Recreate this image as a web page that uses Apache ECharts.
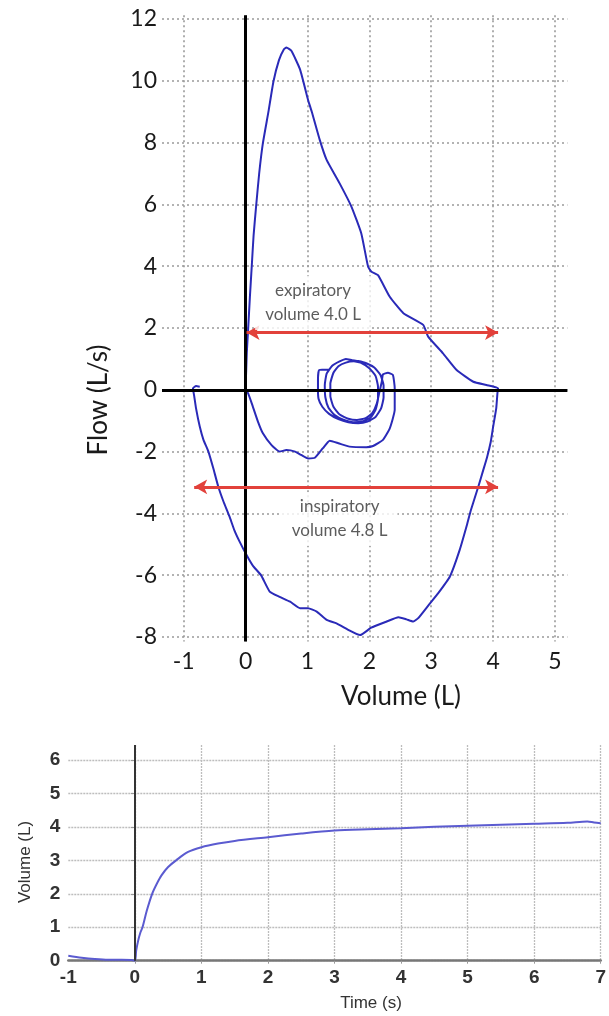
<!DOCTYPE html>
<html><head><meta charset="utf-8">
<script src="https://cdn.jsdelivr.net/npm/echarts@6/dist/echarts.min.js"></script>
<style>html,body{margin:0;padding:0;background:#fff}#c{width:609px;height:1016px}</style>
</head><body><div id="c"></div>
<script>
// ---- Top chart: flow-volume loop ----
const flowTicks = [-8, -6, -4, -2, 0, 2, 4, 6, 8, 10, 12];
const volumeTicks = [-1, 0, 1, 2, 3, 4, 5];

// [volume (L), flow (L/s)]
const tidalLoops = [
  [1.36,0.66],[1.19,0.64],[1.17,0.35],[1.17,0.0],[1.18,-0.3],[1.24,-0.55],[1.35,-0.78],[1.5,-0.95],
  [1.66,-1.05],[1.82,-1.08],[1.97,-1.03],[2.1,-0.88],[2.19,-0.6],[2.23,-0.25],[2.23,0.15],[2.18,0.48],
  [2.08,0.72],[1.95,0.86],[1.82,0.93],[1.72,0.96],[1.62,1.0],[1.52,0.92],[1.4,0.78],[1.31,0.52],
  [1.28,0.15],[1.29,-0.25],[1.34,-0.58],[1.44,-0.82],[1.58,-0.97],[1.74,-1.05],[1.9,-1.02],[2.02,-0.9],
  [2.1,-0.65],[2.14,-0.3],[2.14,0.1],[2.1,0.45],[2.0,0.7],[1.88,0.86],[1.75,0.92],[1.62,0.88],
  [1.5,0.76],[1.42,0.55],[1.37,0.2],[1.37,-0.2],[1.42,-0.55],[1.52,-0.8],[1.66,-0.94],[1.8,-0.98],
  [1.94,-0.92],[2.05,-0.75],[2.12,-0.45],[2.16,-0.1],[2.2,0.25],[2.22,0.5]
];
const tidalExit = [
  [2.3,0.55],[2.38,0.48],[2.41,0.05],[2.41,-0.65],[2.33,-1.25],[2.22,-1.62],[2.06,-1.82],[1.95,-1.86],
  [1.68,-1.84],[1.5,-1.73],[1.36,-1.65],[1.25,-1.89],[1.12,-2.2],[1.01,-2.22],[0.9,-2.11],[0.8,-2.0],
  [0.66,-1.95],[0.55,-2.0],[0.42,-1.79],[0.28,-1.41],[0.2,-1.03],[0.1,-0.44],[0.04,-0.11],[0.0,0.0]
];
const expiratory = [
  [0.01,0.6],[0.02,1.2],[0.04,1.9],[0.07,3.0],[0.1,4.0],[0.13,5.0],[0.17,5.93],[0.22,7.0],
  [0.28,7.98],[0.37,9.0],[0.45,9.97],[0.54,10.67],[0.62,11.02],[0.66,11.08],[0.74,10.97],[0.88,10.37],
  [1.01,9.38],[1.07,9.0],[1.2,8.08],[1.31,7.44],[1.52,6.68],[1.71,5.93],[1.87,5.06],[1.98,3.98],
  [2.035,3.82],[2.14,3.71],[2.33,3.01],[2.55,2.48],[2.87,2.10],[2.95,1.72],[3.19,1.18],[3.41,0.64],
  [3.68,0.26],[3.89,0.155],[4.08,0.05]
];
const inspiratory = [
  [4.07,-0.1],[4.05,-0.6],[4.0,-1.2],[3.96,-1.7],[3.9,-2.2],[3.84,-2.6],[3.76,-3.14],[3.64,-3.9],
  [3.58,-4.35],[3.46,-5.18],[3.30,-6.05],[3.11,-6.59],[2.98,-6.91],[2.79,-7.39],[2.71,-7.50],[2.60,-7.43],
  [2.47,-7.36],[2.28,-7.50],[2.03,-7.70],[1.85,-7.94],[1.66,-7.77],[1.47,-7.56],[1.31,-7.45],[1.15,-7.18],
  [1.01,-7.07],[0.88,-7.07],[0.72,-6.86],[0.55,-6.70],[0.39,-6.53],[0.25,-6.0],[0.12,-5.7],[0.016,-5.35],
  [-0.1,-4.9],[-0.18,-4.55],[-0.26,-4.1],[-0.36,-3.6],[-0.44,-3.14],[-0.52,-2.55],[-0.6,-2.0],[-0.68,-1.62],
  [-0.74,-1.19],[-0.8,-0.6],[-0.83,-0.2],[-0.85,0.05],[-0.8,0.12],[-0.74,0.1]
];
const expArrow = [[0.016, 1.85], [4.08, 1.85]];
const inspArrow = [[-0.83, -3.14], [4.08, -3.14]];
const annotationTexts = ['expiratory\nvolume 4.0 L', 'inspiratory\nvolume 4.8 L'];
const annotationPos = [[1.09, 2.81], [1.52, -4.18]];

// ---- Bottom chart: volume-time ----
const timeTicks = [-1, 0, 1, 2, 3, 4, 5, 6, 7];
const volTicks = [0, 1, 2, 3, 4, 5, 6];
const timeS = [-1,-0.8,-0.6,-0.4,-0.2,-0.05,0,0.02,0.05,0.08,0.115,0.18,0.26,0.33,0.4,0.5,0.62,0.8,1,1.25,1.5,2,2.5,3,3.5,4,4.5,5,5.5,6,6.5,6.8,6.9,7];
const volumeL = [0.15,0.09,0.05,0.03,0.03,0.02,0.0,0.3,0.6,0.82,1.0,1.5,2.0,2.3,2.55,2.8,3.0,3.25,3.39,3.5,3.58,3.69,3.8,3.89,3.93,3.96,4.0,4.03,4.06,4.09,4.12,4.16,4.13,4.11];

const loopData = tidalLoops.concat(tidalExit, expiratory, inspiratory);
const volTimeData = timeS.map((t, i) => [t, volumeL[i]]);

const chart = echarts.init(document.getElementById('c'), null, {renderer: 'canvas'});
const topFont = 'Lato';
const botFont = 'Liberation Sans';
const dottedTop = {color: '#9a9a9a', width: 1.6, type: [2, 3]};

chart.setOption({
  backgroundColor: '#fff',
  animation: false,
  grid: [
    {left: 162, right: 41.6, top: 15.3, bottom: 374.4},
    {left: 68.3, right: 5, top: 744.9, bottom: 55.3}
  ],
  xAxis: [
    {
      gridIndex: 0, type: 'value', min: -1.35, max: 5.2,
      axisLine: {show: false},
      axisTick: {show: false, customValues: volumeTicks},
      axisLabel: {customValues: volumeTicks, fontFamily: topFont, fontSize: 23, color: '#1a1a1a', margin: 8},
      splitLine: {show: true, lineStyle: dottedTop}
    },
    {
      gridIndex: 1, type: 'value', min: -1, max: 7,
      axisLine: {show: true, onZero: false, lineStyle: {color: '#777', width: 2.5}},
      axisTick: {show: true, length: 3, customValues: timeTicks.slice(1), lineStyle: {color: '#999'}},
      axisLabel: {customValues: timeTicks, fontFamily: botFont, fontWeight: 'bold', fontSize: 19, color: '#333', margin: 8},
      splitLine: {show: true, lineStyle: {color: '#bdbdbd', width: 1.3, type: [2, 1]}}
    }
  ],
  yAxis: [
    {
      gridIndex: 0, type: 'value', min: -8.15, max: 12.12,
      axisLine: {show: false},
      axisTick: {show: false, customValues: flowTicks},
      axisLabel: {customValues: flowTicks, fontFamily: topFont, fontSize: 23, color: '#1a1a1a', margin: 5},
      splitLine: {show: true, lineStyle: dottedTop}
    },
    {
      gridIndex: 1, type: 'value', min: 0, max: 6.45,
      axisLine: {show: false},
      axisTick: {show: true, length: 4, customValues: volTicks, lineStyle: {color: '#999'}},
      axisLabel: {customValues: volTicks, fontFamily: botFont, fontWeight: 'bold', fontSize: 19, color: '#333', margin: 8},
      splitLine: {show: true, lineStyle: {color: '#bdbdbd', width: 1.3, type: [2, 1]}}
    }
  ],
  series: [
    {
      type: 'line', xAxisIndex: 0, yAxisIndex: 0, data: [], z: 1,
      markLine: {
        silent: true, symbol: 'none', label: {show: false},
        lineStyle: {color: '#000', width: 3, type: 'solid'},
        emphasis: {disabled: true},
        data: [{xAxis: 0}, {yAxis: 0}]
      }
    },
    {
      type: 'line', xAxisIndex: 0, yAxisIndex: 0, data: loopData, z: 3,
      showSymbol: false, symbol: 'none', smooth: 0.15, sampling: null,
      lineStyle: {color: '#2a2ab8', width: 2}
    },
    {
      type: 'line', xAxisIndex: 0, yAxisIndex: 0, data: [], z: 4,
      markLine: {
        silent: true, symbol: ['arrow', 'arrow'], symbolSize: [11, 13], label: {show: false},
        lineStyle: {color: '#e2413b', width: 3, type: 'solid'},
        emphasis: {disabled: true},
        data: [
          [{coord: expArrow[0]}, {coord: expArrow[1]}],
          [{coord: inspArrow[0]}, {coord: inspArrow[1]}]
        ]
      }
    },
    {
      type: 'scatter', xAxisIndex: 0, yAxisIndex: 0, z: 5, symbolSize: 0, silent: true,
      data: annotationPos.map((p, i) => ({value: p, name: annotationTexts[i]})),
      label: {
        show: true, position: 'inside', formatter: p => p.name,
        fontFamily: topFont, fontSize: 17, color: '#333', lineHeight: 24,
        backgroundColor: '#fff', padding: [3, 10], align: 'center', verticalAlign: 'middle'
      }
    },
    {
      type: 'line', xAxisIndex: 1, yAxisIndex: 1, data: [], z: 2,
      markLine: {
        silent: true, symbol: 'none', label: {show: false},
        lineStyle: {color: '#333', width: 2, type: 'solid'},
        emphasis: {disabled: true},
        data: [{xAxis: 0}]
      }
    },
    {
      type: 'line', xAxisIndex: 1, yAxisIndex: 1, data: volTimeData, z: 3,
      showSymbol: false, symbol: 'none', smooth: 0.3,
      lineStyle: {color: '#5b5bd0', width: 2}
    }
  ],
  graphic: [
    {type: 'text', x: 99, y: 400, rotation: Math.PI / 2,
     style: {text: 'Flow (L/s)', fontFamily: topFont, fontSize: 26, fill: '#1a1a1a', align: 'center', verticalAlign: 'middle'}},
    {type: 'text', x: 401, y: 697,
     style: {text: 'Volume (L)', fontFamily: topFont, fontSize: 26, fill: '#1a1a1a', align: 'center', verticalAlign: 'middle'}},
    {type: 'text', x: 25, y: 862, rotation: Math.PI / 2,
     style: {text: 'Volume (L)', fontFamily: botFont, fontSize: 17, fill: '#333', align: 'center', verticalAlign: 'middle'}},
    {type: 'text', x: 371, y: 1003,
     style: {text: 'Time (s)', fontFamily: botFont, fontSize: 17, fill: '#333', align: 'center', verticalAlign: 'middle'}}
  ]
});
</script></body></html>
